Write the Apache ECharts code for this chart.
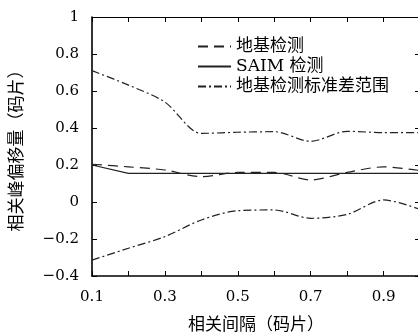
<!DOCTYPE html>
<html>
<head>
<meta charset="utf-8">
<script src="https://cdn.jsdelivr.net/npm/echarts@6/dist/echarts.min.js"></script>
<style>
  html, body { margin: 0; padding: 0; background: #fff; }
  #chart-container { width: 418px; height: 334px; }
</style>
</head>
<body>
<div id="chart-container"></div>
<script>
// correlation spacing (chips)
const spacing = [0.1, 0.2, 0.3, 0.4, 0.5, 0.6, 0.7, 0.8, 0.9, 1.0];

// peak offset (chips)
const groundMean = [0.204, 0.19, 0.173, 0.137, 0.16, 0.16, 0.119, 0.16, 0.19, 0.17];
const saim       = [0.2, 0.155, 0.155, 0.155, 0.155, 0.155, 0.155, 0.155, 0.155, 0.155];
const stdUpper   = [0.71, 0.632, 0.54, 0.371, 0.377, 0.38, 0.328, 0.382, 0.375, 0.375];
const stdLower   = [-0.314, -0.25, -0.187, -0.097, -0.047, -0.043, -0.088, -0.067, 0.011, -0.04];

const legendNames = ['地基检测', 'SAIM 检测', '地基检测标准差范围'];

(function () {
  const chartDom = document.getElementById('chart-container');
  const myChart = echarts.init(chartDom, null, { renderer: 'canvas' });

  const numFont = 'DejaVu Serif';
  const cjkFont = "'DejaVu Serif', 'Noto Sans CJK SC'";
  const ink = '#222';

  function pairs(ys) {
    return spacing.map((x, i) => [x, ys[i]]);
  }

  // same settings for bottom/top x axes and left/right y axes
  function xAxisBase(pos) {
    return {
      type: 'value', position: pos, min: 0.1, max: 1.0, interval: 0.1,
      axisLine: { show: true, onZero: false, lineStyle: { color: '#000', width: pos === 'bottom' ? 1.6 : 1 } },
      axisTick: { show: true, inside: true, length: 5, lineStyle: { color: '#000' } },
      splitLine: { show: false }
    };
  }
  function yAxisBase(pos) {
    return {
      type: 'value', position: pos, min: -0.4, max: 1, interval: 0.2,
      axisLine: { show: true, onZero: false, lineStyle: { color: '#000', width: pos === 'left' ? 1.6 : 1 } },
      axisTick: { show: true, inside: true, length: 5, lineStyle: { color: '#000' } },
      splitLine: { show: false }
    };
  }

  const xBottom = xAxisBase('bottom');
  xBottom.axisLabel = {
    color: '#000', fontFamily: numFont, fontSize: 15, margin: 14,
    formatter: v => (Math.round(v * 10) % 2 === 1 ? v.toFixed(1) : '')
  };
  xBottom.name = '相关间隔（码片）';
  xBottom.nameLocation = 'middle';
  xBottom.nameGap = 41;
  xBottom.nameTextStyle = { color: '#000', fontFamily: cjkFont, fontSize: 17 };

  const xTop = xAxisBase('top');
  xTop.axisLabel = { show: false };

  const yLeft = yAxisBase('left');
  yLeft.axisLabel = {
    color: '#000', fontFamily: numFont, fontSize: 15, margin: 13,
    formatter: v => String(Math.round(v * 10) / 10).replace('-', '\u2212')
  };
  yLeft.name = '相关峰偏移量（码片）';
  yLeft.nameLocation = 'middle';
  yLeft.nameGap = 66;
  yLeft.nameTextStyle = { color: '#000', fontFamily: cjkFont, fontSize: 17 };

  const yRight = yAxisBase('right');
  yRight.axisLabel = { show: false };

  function lineSeries(name, ys, type, smooth) {
    return {
      name: name, type: 'line', xAxisIndex: 0, yAxisIndex: 0,
      data: pairs(ys), symbol: 'none', smooth: smooth, silent: true,
      lineStyle: { color: ink, width: 1.2, type: type },
      itemStyle: { color: ink }
    };
  }

  const option = {
    animation: false,
    backgroundColor: '#fff',
    grid: { left: 92, top: 17, right: -2, bottom: 58, show: false, outerBoundsMode: 'none', containLabel: false },
    legend: {
      data: legendNames, orient: 'vertical', left: 192, top: 33,
      itemWidth: 33, itemHeight: 12, itemGap: 3,
      itemStyle: { opacity: 0 },
      textStyle: { color: '#000', fontFamily: cjkFont, fontSize: 17, lineHeight: 17 },
      selectedMode: false
    },
    xAxis: [xBottom, xTop],
    yAxis: [yLeft, yRight],
    series: [
      lineSeries(legendNames[0], groundMean, [10, 6], 0.3),
      lineSeries(legendNames[1], saim, 'solid', false),
      lineSeries(legendNames[2], stdUpper, [8, 3, 2, 3], 0.3),
      lineSeries(legendNames[2], stdLower, [8, 3, 2, 3], 0.3)
    ]
  };

  myChart.setOption(option);
}());
</script>
</body>
</html>
